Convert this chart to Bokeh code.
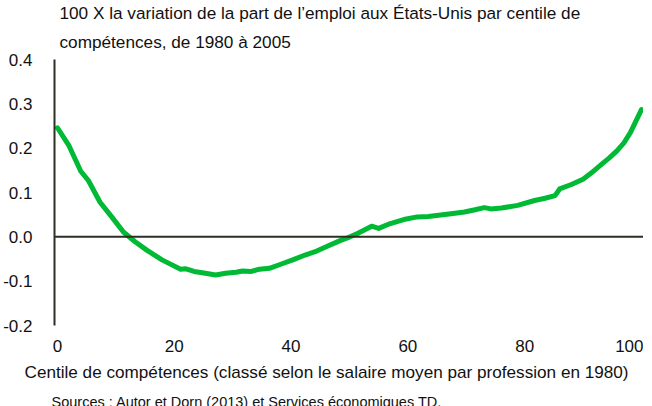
from bokeh.plotting import figure
from bokeh.models import Range1d, Span, Title, FixedTicker, CustomJSTickFormatter
from bokeh.embed import file_html
from bokeh.resources import INLINE

# Data
centile = [0, 2, 4, 5.3, 7.3, 9.3, 11.3, 13.3, 15.3, 17.9, 21.1, 22, 23.4, 24.8, 27.1,
           28.8, 30.6, 31.7, 33.2, 34.6, 36.3, 38, 40.3, 42.4, 44.4, 46.4, 48.5, 50.1,
           51.3, 53.8, 55, 57, 59.3, 61.6, 63.5, 65.6, 67.4, 69.7, 71.5, 73.1, 74.2,
           76, 78.8, 81.7, 83.5, 85.2, 86, 88, 90, 91.5, 93.2, 94.5, 95.8, 97, 98.1, 100]
variation = [0.246, 0.205, 0.148, 0.127, 0.078, 0.045, 0.011, -0.011, -0.030, -0.052,
             -0.073, -0.072, -0.078, -0.081, -0.086, -0.082, -0.080, -0.077, -0.078,
             -0.073, -0.071, -0.063, -0.052, -0.041, -0.032, -0.020, -0.008, 0.000,
             0.007, 0.024, 0.019, 0.030, 0.039, 0.045, 0.046, 0.049, 0.052, 0.056,
             0.061, 0.066, 0.063, 0.065, 0.071, 0.082, 0.087, 0.093, 0.108, 0.118,
             0.130, 0.145, 0.164, 0.178, 0.194, 0.212, 0.235, 0.287]

x_ticks = [0, 20, 40, 60, 80, 100]
y_ticks = [-0.2, -0.1, 0.0, 0.1, 0.2, 0.3, 0.4]

title_line1 = "100 X la variation de la part de l\u2019emploi aux \u00c9tats-Unis par centile de"
title_line2 = "comp\u00e9tences, de 1980 \u00e0 2005"
x_label = "Centile de comp\u00e9tences (class\u00e9 selon le salaire moyen par profession en 1980)"
source_text = "Sources : Autor et Dorn (2013) et Services \u00e9conomiques TD."

FONT = "Liberation Sans"
TXT = "#111111"
GREEN = "#00B935"
DARK = "#2e2e24"

p = figure(width=643, height=415, output_backend="svg", toolbar_location=None,
           x_range=Range1d(-0.5, 100.35), y_range=Range1d(-0.2, 0.4),
           min_border_left=0, min_border_right=0, min_border_top=49, min_border_bottom=0)
p.outline_line_color = None
p.xgrid.visible = False
p.ygrid.visible = False
p.background_fill_color = "white"
p.border_fill_color = "white"

def make_title(text, size, standoff, offset):
    return Title(text=text, text_font=FONT, text_font_size=size, text_font_style="normal",
                 text_color=TXT, align="left", offset=offset, standoff=standoff)

# outer line (first line of the title) and inner line (second line)
p.title = make_title(title_line1, "17.2px", 0, 5)
p.add_layout(make_title(title_line2, "17.2px", 15, 5), "above")

p.xaxis.ticker = FixedTicker(ticks=x_ticks)
p.yaxis.ticker = FixedTicker(ticks=y_ticks)
p.yaxis.formatter = CustomJSTickFormatter(code="return tick.toFixed(1);")

for ax in (p.xaxis[0], p.yaxis[0]):
    ax.major_tick_line_color = None
    ax.minor_tick_line_color = None
    ax.major_label_text_font = FONT
    ax.major_label_text_font_size = "17px"
    ax.major_label_text_color = TXT
p.xaxis.axis_line_color = None
p.xaxis.major_label_standoff = 8
p.yaxis.axis_line_color = DARK
p.yaxis.axis_line_width = 2
p.yaxis.major_label_standoff = 16

p.add_layout(make_title(x_label, "17.15px", 10, -30), "below")
p.add_layout(make_title(source_text, "14.5px", 11, -3), "below")

p.add_layout(Span(location=0, dimension="width", line_color=DARK, line_width=2))

p.line(centile, variation, line_color=GREEN, line_width=5, line_join="round", line_cap="round")

open("out.html", "w").write(file_html(p, INLINE))
